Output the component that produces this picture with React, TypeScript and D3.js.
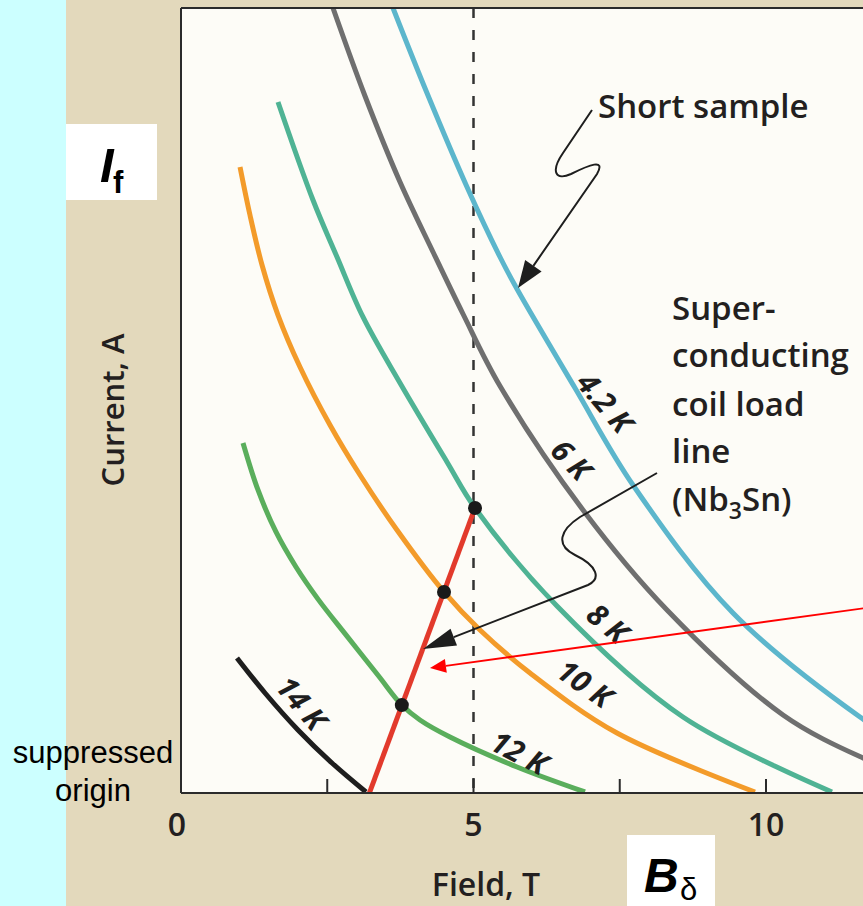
import React from "react";
import * as d3 from "d3";

const W = 863;
const H = 906;

// axis
const xTickValues = [2.5, 5, 7.5, 10, 12.5];
const xTickLabels = [0, 5, 10];
const dashedField = 5;

// critical-current curves (field in T, current in arbitrary units, suppressed origin)
const field42K = [3.624, 4.205, 4.889, 5.453, 5.744, 6.735, 7.726, 9.436, 11.607, 12.291];
const current42K = [100, 89.17, 77.2, 68.28, 64.2, 51.59, 39.24, 22.93, 9.68, 6.5];

const field6K = [2.598, 3.145, 3.744, 4.308, 4.821, 5.453, 6.872, 8.308, 10.291, 11.658, 12.291];
const current6K = [100, 88.79, 77.83, 68.92, 61.02, 51.85, 36.05, 23.31, 9.94, 4.46, 2.68];

const field8K = [1.658, 2.256, 2.667, 3.111, 3.744, 4.547, 5.026, 6.427, 8.581, 11.128];
const current8K = [88.03, 75.54, 68.28, 60.64, 52.23, 42.17, 36.31, 23.82, 9.68, 0.13];

const field10K = [1.009, 1.179, 1.385, 1.658, 2.034, 2.547, 3.06, 3.692, 4.496, 5.111, 5.966, 7.453, 9.812];
const current10K = [79.75, 73.63, 67.26, 60.89, 54.27, 46.88, 40.51, 33.5, 25.61, 20.76, 15.29, 7.64, 0.13];

const field12K = [1.06, 1.316, 1.624, 1.966, 2.342, 2.803, 3.368, 3.775, 4.085, 4.598, 5.744, 6.906];
const current12K = [44.59, 38.6, 33.25, 28.79, 24.7, 20.3, 15.0, 11.2, 9.3, 7.13, 3.31, 0.13];

const field14K = [0.957, 1.436, 2.0, 2.581, 3.162];
const current14K = [17.2, 12.74, 8.03, 3.82, 0.13];

const curveNames = ["4.2 K", "6 K", "8 K", "10 K", "12 K", "14 K"];
const curveColors = ["#5cb6cc", "#6f6f6f", "#4fb394", "#f39b2a", "#5aae5c", "#1e1e1e"];
const curveFields = [field42K, field6K, field8K, field10K, field12K, field14K];
const curveCurrents = [current42K, current6K, current8K, current10K, current12K, current14K];

// label anchor (field, current) and rotation
const labelField = [7.26, 6.68, 7.3, 6.91, 5.79, 2.07];
const labelCurrent = [49.8, 42.5, 21.7, 14.0, 5.2, 11.5];
const labelAngle = [50, 46, 40, 35, 28, 50];

// coil load line and operating points
const loadField = [3.22, 5.026];
const loadCurrent = [0, 36.31];
const pointField = [5.026, 4.496, 3.775];
const pointCurrent = [36.31, 25.61, 11.2];

const FONT = "'Open Sans', 'DejaVu Sans', sans-serif";

function arrowHead(tip: [number, number], from: [number, number], len: number, hw: number) {
  const dx = tip[0] - from[0];
  const dy = tip[1] - from[1];
  const d = Math.hypot(dx, dy);
  const ux = dx / d, uy = dy / d;
  const bx = tip[0] - ux * len, by = tip[1] - uy * len;
  const px = -uy, py = ux;
  return {
    base: [bx, by] as [number, number],
    points: `${tip[0]},${tip[1]} ${bx + px * hw},${by + py * hw} ${bx - px * hw},${by - py * hw}`,
  };
}

export default function App() {
  const x = d3.scaleLinear().domain([0, 10]).range([181, 766]);
  const y = d3.scaleLinear().domain([0, 100]).range([793, 8]);
  const plotLeft = x(0);
  const plotTop = y(100);
  const plotBottom = y(0);

  const line = d3
    .line<[number, number]>()
    .x((d) => x(d[0]))
    .y((d) => y(d[1]))
    .curve(d3.curveCatmullRom.alpha(0.5));

  const straight = d3
    .line<[number, number]>()
    .x((d) => x(d[0]))
    .y((d) => y(d[1]));

  const curves = curveFields.map((fs, i) =>
    line(fs.map((f, j) => [f, curveCurrents[i][j]] as [number, number]))
  );

  // annotations
  const ssFrom: [number, number] = [597, 174];
  const ssTip: [number, number] = [518, 288];
  const ssHead = arrowHead(ssTip, ssFrom, 27, 10);

  const llFrom: [number, number] = [588, 585];
  const llTip: [number, number] = [423, 649];
  const llHead = arrowHead(llTip, llFrom, 33, 9);

  const rdFrom: [number, number] = [880, 606];
  const rdTip: [number, number] = [430, 668];
  const rdHead = arrowHead(rdTip, rdFrom, 16, 7);

  return (
    <svg
      width={W}
      height={H}
      style={{ position: "absolute", left: 0, top: 0, display: "block" }}
    >
      <defs>
        <clipPath id="plotClip">
          <rect x={plotLeft} y={plotTop} width={W - plotLeft} height={plotBottom - plotTop} />
        </clipPath>
      </defs>
      {/* backgrounds */}
      <rect x={0} y={0} width={W} height={H} fill="#e3d9bc" />
      <rect x={0} y={0} width={66} height={H} fill="#ccffff" />
      <rect x={plotLeft} y={plotTop} width={W - plotLeft} height={plotBottom - plotTop} fill="#fdfcf7" />

      {/* dashed line at 5 T */}
      <line
        x1={x(dashedField)}
        x2={x(dashedField)}
        y1={plotTop}
        y2={plotBottom}
        stroke="#333"
        strokeWidth={2.5}
        strokeDasharray="10,12"
      />

      {/* curves */}
      <g clipPath="url(#plotClip)">
        {curves.map((d, i) => (
          <path key={i} d={d || ""} fill="none" stroke={curveColors[i]} strokeWidth={5} />
        ))}
        <path
          d={straight(loadField.map((f, j) => [f, loadCurrent[j]] as [number, number])) || ""}
          fill="none"
          stroke="#e23a2c"
          strokeWidth={5}
        />
      </g>

      {/* frame & ticks */}
      <g stroke="#2b2b2b" strokeWidth={2} fill="none">
        <line x1={plotLeft} x2={W} y1={plotTop} y2={plotTop} />
        <line x1={plotLeft} x2={plotLeft} y1={plotTop} y2={plotBottom} />
        <line x1={plotLeft} x2={W} y1={plotBottom} y2={plotBottom} />
        {xTickValues.map((t) => (
          <line key={t} x1={x(t)} x2={x(t)} y1={plotBottom} y2={plotBottom - 14} />
        ))}
      </g>

      {/* operating points */}
      {pointField.map((f, i) => (
        <circle key={i} cx={x(f)} cy={y(pointCurrent[i])} r={7} fill="#1a1a1a" />
      ))}

      {/* curve labels */}
      {curveNames.map((n, i) => (
        <text
          key={n}
          transform={`translate(${x(labelField[i])},${y(labelCurrent[i])}) rotate(${labelAngle[i]})`}
          textAnchor="middle"
          dominantBaseline="central"
          fontFamily={FONT}
          fontWeight={700}
          fontStyle="italic"
          fontSize={30}
          fill="#1e1e1e"
        >
          {n}
        </text>
      ))}

      {/* Short sample annotation */}
      <path
        d={`M592,110 L563,153 C550,172 556,181 571,174 C589,165 606,158 597,174 L${ssHead.base[0]},${ssHead.base[1]}`}
        fill="none"
        stroke="#1e1e1e"
        strokeWidth={2}
      />
      <polygon points={ssHead.points} fill="#1e1e1e" />
      <text x={598} y={118} fontFamily={FONT} fontWeight={600} fontSize={33} fill="#231f20">
        Short sample
      </text>

      {/* load line annotation */}
      <path
        d={`M657,473 L580,517 C560,530 555,545 575,555 C598,566 601,579 588,585 L${llHead.base[0]},${llHead.base[1]}`}
        fill="none"
        stroke="#1e1e1e"
        strokeWidth={2}
      />
      <polygon points={llHead.points} fill="#1e1e1e" />
      <g fontFamily={FONT} fontWeight={600} fontSize={33} fill="#231f20">
        <text x={672} y={320}>Super-</text>
        <text x={672} y={367}>conducting</text>
        <text x={672} y={416}>coil load</text>
        <text x={672} y={463}>line</text>
        <text x={672} y={511}>
          (Nb<tspan fontSize={23} dy={8}>3</tspan>
          <tspan dy={-8}>Sn)</tspan>
        </text>
      </g>

      {/* red arrow */}
      <line
        x1={rdFrom[0]}
        y1={rdFrom[1]}
        x2={rdHead.base[0]}
        y2={rdHead.base[1]}
        stroke="#ff0000"
        strokeWidth={1.8}
      />
      <polygon points={rdHead.points} fill="#ff0000" />

      {/* axis labels */}
      {xTickLabels.map((t) => (
        <text
          key={t}
          x={x(t) - (t === 0 ? 4 : 0)}
          y={836}
          textAnchor="middle"
          fontFamily={FONT}
          fontWeight={600}
          fontSize={32}
          fill="#231f20"
        >
          {t}
        </text>
      ))}
      <text x={486} y={896} textAnchor="middle" fontFamily={FONT} fontWeight={600} fontSize={32} fill="#231f20">
        Field, T
      </text>
      <text
        transform="translate(124,410) rotate(-90)"
        textAnchor="middle"
        fontFamily={FONT}
        fontWeight={600}
        fontSize={31}
        fill="#231f20"
      >
        Current, A
      </text>

      {/* suppressed origin */}
      <g fontFamily="'Liberation Sans', Arial, sans-serif" fontSize={31} fill="#000" textAnchor="middle">
        <text x={93} y={763}>suppressed</text>
        <text x={93} y={801}>origin</text>
      </g>

      {/* I_f box */}
      <rect x={66} y={124} width={91} height={76} fill="#ffffff" />
      <text x={100} y={182} fontFamily="'Liberation Sans', Arial, sans-serif" fontWeight={700} fontStyle="italic" fontSize={49} fill="#000">
        I
      </text>
      <text x={113} y={193} fontFamily="'Liberation Sans', Arial, sans-serif" fontWeight={700} fontSize={31} fill="#000">
        f
      </text>

      {/* B_delta box */}
      <rect x={627} y={835} width={88} height={H - 835} fill="#ffffff" />
      <text x={644} y={892} fontFamily="'Liberation Sans', Arial, sans-serif" fontWeight={700} fontStyle="italic" fontSize={48} fill="#000">
        B
      </text>
      <text x={680} y={900} fontFamily="'Liberation Sans', Arial, sans-serif" fontSize={31} fill="#000">
        δ
      </text>
    </svg>
  );
}
